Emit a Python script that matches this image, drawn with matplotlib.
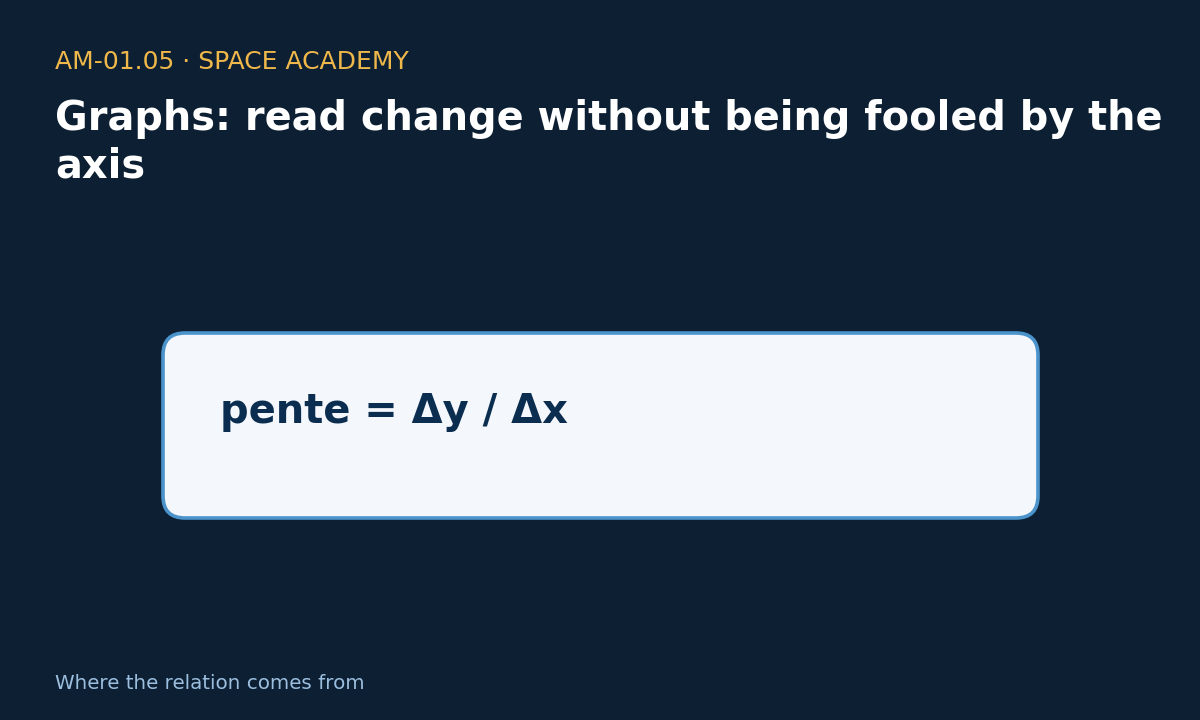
import matplotlib
matplotlib.use("Agg")
import matplotlib.pyplot as plt
from matplotlib.patches import FancyBboxPatch

# texts on the slide
kicker = "AM-01.05 · SPACE ACADEMY"
title_lines = ["Graphs: read change without being fooled by the", "axis"]
formula = "pente = Δy / Δx"
footer = "Where the relation comes from"

# colours
bg = "#0d1f33"
gold = "#f0b84a"
card_fill = "#f4f7fb"
card_edge = "#4a93cb"
ink = "#0b2e50"
muted = "#9cbfdf"

fig = plt.figure(figsize=(12, 7.2), dpi=100)
fig.patch.set_facecolor(bg)
ax = fig.add_axes([0, 0, 1, 1])
ax.set_xlim(0, 1200)
ax.set_ylim(720, 0)
ax.axis("off")
ax.set_facecolor(bg)

ax.text(55, 69, kicker, color=gold, fontsize=18, va="baseline", ha="left")
ax.text(55, 130, title_lines[0], color="white", fontsize=28.75, fontweight="bold",
        va="baseline", ha="left")
ax.text(55, 178, title_lines[1], color="white", fontsize=28.75, fontweight="bold",
        va="baseline", ha="left")

card = FancyBboxPatch((163, 333), 875, 185,
                      boxstyle="round,pad=0,rounding_size=22",
                      facecolor=card_fill, edgecolor=card_edge, linewidth=2.6)
ax.add_patch(card)
ax.text(220, 423, formula, color=ink, fontsize=28.8, fontweight="bold",
        va="baseline", ha="left")

ax.text(55, 689, footer, color=muted, fontsize=14.3, va="baseline", ha="left")

fig.savefig("out.png", dpi=100, facecolor=bg)
